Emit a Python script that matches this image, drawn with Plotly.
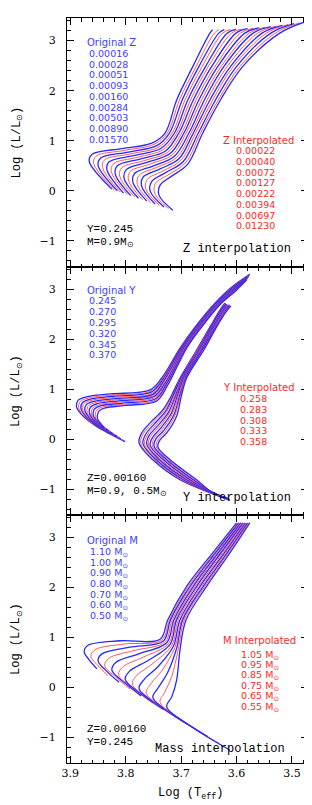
import plotly.graph_objects as go

# ---------------- data ----------------
z_orig = ["0.00016", "0.00028", "0.00051", "0.00093", "0.00160", "0.00284", "0.00503", "0.00890", "0.01570"]
z_interp = ["0.00022", "0.00040", "0.00072", "0.00127", "0.00222", "0.00394", "0.00697", "0.01230"]
y_orig = ["0.245", "0.270", "0.295", "0.320", "0.345", "0.370"]
y_interp = ["0.258", "0.283", "0.308", "0.333", "0.358"]
m_orig = ["1.10", "1.00", "0.90", "0.80", "0.70", "0.60", "0.50"]
m_interp = ["1.05", "0.95", "0.85", "0.75", "0.65", "0.55"]

# Panel 1: Z interpolation tracks (Z increasing, blue/red alternating)
z_tracks_logt = [
    [3.825, 3.866, 3.860, 3.807, 3.753, 3.729, 3.708, 3.679, 3.648, 3.643],
    [3.821, 3.858, 3.853, 3.801, 3.749, 3.725, 3.703, 3.673, 3.640, 3.632],
    [3.815, 3.850, 3.845, 3.795, 3.744, 3.721, 3.698, 3.668, 3.632, 3.622],
    [3.810, 3.842, 3.838, 3.790, 3.740, 3.716, 3.693, 3.662, 3.625, 3.611],
    [3.804, 3.834, 3.830, 3.784, 3.736, 3.712, 3.688, 3.656, 3.617, 3.601],
    [3.797, 3.826, 3.822, 3.778, 3.732, 3.708, 3.683, 3.651, 3.609, 3.591],
    [3.791, 3.819, 3.815, 3.773, 3.728, 3.704, 3.678, 3.645, 3.601, 3.580],
    [3.784, 3.811, 3.807, 3.767, 3.724, 3.699, 3.673, 3.639, 3.593, 3.570],
    [3.777, 3.803, 3.799, 3.762, 3.720, 3.695, 3.668, 3.634, 3.585, 3.559],
    [3.770, 3.795, 3.792, 3.756, 3.716, 3.691, 3.663, 3.628, 3.577, 3.549],
    [3.762, 3.787, 3.784, 3.750, 3.712, 3.686, 3.658, 3.623, 3.570, 3.538],
    [3.755, 3.779, 3.776, 3.745, 3.708, 3.682, 3.653, 3.617, 3.562, 3.528],
    [3.747, 3.771, 3.769, 3.739, 3.704, 3.678, 3.648, 3.611, 3.554, 3.517],
    [3.739, 3.764, 3.761, 3.733, 3.700, 3.674, 3.643, 3.606, 3.546, 3.507],
    [3.731, 3.756, 3.753, 3.728, 3.696, 3.669, 3.638, 3.600, 3.538, 3.496],
    [3.723, 3.748, 3.746, 3.722, 3.692, 3.665, 3.633, 3.594, 3.530, 3.486],
    [3.715, 3.740, 3.738, 3.717, 3.688, 3.661, 3.629, 3.589, 3.522, 3.476],
]
z_tracks_logl = [
    [0.034, 0.594, 0.734, 0.844, 0.954, 1.154, 1.814, 2.480, 3.148, 3.214],
    [0.019, 0.552, 0.695, 0.810, 0.928, 1.154, 1.814, 2.480, 3.148, 3.215],
    [-0.001, 0.509, 0.656, 0.775, 0.902, 1.154, 1.814, 2.480, 3.148, 3.217],
    [-0.022, 0.467, 0.618, 0.741, 0.875, 1.154, 1.814, 2.480, 3.148, 3.220],
    [-0.046, 0.424, 0.579, 0.707, 0.849, 1.154, 1.814, 2.480, 3.148, 3.224],
    [-0.070, 0.382, 0.540, 0.672, 0.823, 1.154, 1.814, 2.480, 3.148, 3.230],
    [-0.095, 0.339, 0.501, 0.638, 0.797, 1.154, 1.814, 2.480, 3.148, 3.237],
    [-0.122, 0.297, 0.463, 0.603, 0.770, 1.154, 1.814, 2.480, 3.148, 3.245],
    [-0.149, 0.254, 0.424, 0.569, 0.744, 1.154, 1.814, 2.480, 3.148, 3.254],
    [-0.177, 0.212, 0.385, 0.535, 0.718, 1.154, 1.814, 2.480, 3.148, 3.265],
    [-0.205, 0.169, 0.346, 0.500, 0.692, 1.154, 1.814, 2.480, 3.148, 3.277],
    [-0.234, 0.127, 0.308, 0.466, 0.665, 1.154, 1.814, 2.480, 3.148, 3.290],
    [-0.263, 0.084, 0.269, 0.432, 0.639, 1.154, 1.814, 2.480, 3.148, 3.304],
    [-0.293, 0.042, 0.230, 0.397, 0.613, 1.154, 1.814, 2.480, 3.148, 3.320],
    [-0.324, -0.001, 0.191, 0.363, 0.587, 1.154, 1.814, 2.480, 3.148, 3.337],
    [-0.355, -0.044, 0.153, 0.328, 0.560, 1.154, 1.814, 2.480, 3.148, 3.355],
    [-0.386, -0.086, 0.114, 0.294, 0.534, 1.154, 1.814, 2.480, 3.148, 3.374],
]

# Panel 2: Y interpolation, M = 0.9 tracks (outer to inner)
y09_tracks_logt = [
    [3.801, 3.852, 3.876, 3.889, 3.886, 3.871, 3.828, 3.756, 3.735, 3.702, 3.675, 3.639, 3.609, 3.576],
    [3.805, 3.851, 3.874, 3.885, 3.882, 3.868, 3.825, 3.755, 3.734, 3.701, 3.674, 3.638, 3.608, 3.577],
    [3.809, 3.851, 3.871, 3.881, 3.878, 3.864, 3.823, 3.754, 3.733, 3.700, 3.673, 3.637, 3.607, 3.577],
    [3.812, 3.850, 3.869, 3.878, 3.875, 3.861, 3.820, 3.752, 3.732, 3.698, 3.671, 3.635, 3.606, 3.578],
    [3.816, 3.850, 3.866, 3.874, 3.871, 3.857, 3.817, 3.751, 3.731, 3.697, 3.670, 3.634, 3.605, 3.578],
    [3.820, 3.849, 3.864, 3.870, 3.867, 3.854, 3.815, 3.750, 3.730, 3.696, 3.669, 3.633, 3.605, 3.579],
    [3.824, 3.848, 3.861, 3.866, 3.863, 3.851, 3.812, 3.749, 3.728, 3.695, 3.668, 3.632, 3.604, 3.580],
    [3.828, 3.848, 3.859, 3.862, 3.859, 3.847, 3.809, 3.748, 3.727, 3.694, 3.667, 3.631, 3.603, 3.580],
    [3.831, 3.847, 3.856, 3.859, 3.856, 3.844, 3.806, 3.746, 3.726, 3.692, 3.665, 3.629, 3.602, 3.581],
    [3.835, 3.847, 3.854, 3.855, 3.852, 3.840, 3.804, 3.745, 3.725, 3.691, 3.664, 3.628, 3.601, 3.581],
    [3.839, 3.846, 3.851, 3.851, 3.848, 3.837, 3.801, 3.744, 3.724, 3.690, 3.663, 3.627, 3.600, 3.582],
]
y09_tracks_logl = [
    [-0.048, 0.252, 0.452, 0.652, 0.776, 0.846, 0.906, 0.986, 1.226, 1.826, 2.246, 2.726, 3.046, 3.306],
    [-0.021, 0.259, 0.447, 0.635, 0.755, 0.824, 0.883, 0.964, 1.212, 1.826, 2.246, 2.726, 3.040, 3.294],
    [0.007, 0.267, 0.443, 0.619, 0.734, 0.802, 0.860, 0.942, 1.198, 1.826, 2.246, 2.726, 3.034, 3.282],
    [0.034, 0.274, 0.438, 0.602, 0.713, 0.780, 0.837, 0.920, 1.184, 1.826, 2.246, 2.726, 3.028, 3.270],
    [0.062, 0.282, 0.434, 0.586, 0.692, 0.758, 0.814, 0.898, 1.170, 1.826, 2.246, 2.726, 3.022, 3.258],
    [0.089, 0.289, 0.429, 0.569, 0.671, 0.736, 0.791, 0.876, 1.156, 1.826, 2.246, 2.726, 3.016, 3.246],
    [0.116, 0.296, 0.424, 0.552, 0.650, 0.714, 0.768, 0.854, 1.142, 1.826, 2.246, 2.726, 3.010, 3.234],
    [0.144, 0.304, 0.420, 0.536, 0.629, 0.692, 0.745, 0.832, 1.128, 1.826, 2.246, 2.726, 3.004, 3.222],
    [0.171, 0.311, 0.415, 0.519, 0.608, 0.670, 0.722, 0.810, 1.114, 1.826, 2.246, 2.726, 2.998, 3.210],
    [0.199, 0.319, 0.411, 0.503, 0.587, 0.648, 0.699, 0.788, 1.100, 1.826, 2.246, 2.726, 2.992, 3.198],
    [0.226, 0.326, 0.406, 0.486, 0.566, 0.626, 0.676, 0.766, 1.086, 1.826, 2.246, 2.726, 2.986, 3.186],
]

# Panel 2: Y interpolation, M = 0.5 tracks
y05_tracks_logt = [
    [3.612, 3.648, 3.702, 3.751, 3.776, 3.771, 3.756, 3.733, 3.717, 3.702, 3.672, 3.646, 3.630, 3.621],
    [3.612, 3.648, 3.699, 3.748, 3.773, 3.768, 3.753, 3.731, 3.715, 3.701, 3.671, 3.645, 3.629, 3.620],
    [3.612, 3.648, 3.696, 3.745, 3.769, 3.764, 3.750, 3.728, 3.714, 3.700, 3.669, 3.644, 3.628, 3.619],
    [3.613, 3.648, 3.693, 3.742, 3.766, 3.761, 3.747, 3.726, 3.712, 3.698, 3.668, 3.642, 3.626, 3.618],
    [3.613, 3.648, 3.690, 3.739, 3.762, 3.758, 3.744, 3.723, 3.710, 3.697, 3.667, 3.641, 3.625, 3.617],
    [3.613, 3.648, 3.687, 3.736, 3.759, 3.755, 3.741, 3.721, 3.709, 3.696, 3.666, 3.640, 3.624, 3.616],
    [3.613, 3.648, 3.684, 3.732, 3.756, 3.751, 3.738, 3.718, 3.707, 3.695, 3.664, 3.639, 3.623, 3.614],
    [3.613, 3.648, 3.681, 3.729, 3.752, 3.748, 3.735, 3.716, 3.705, 3.694, 3.663, 3.638, 3.622, 3.613],
    [3.614, 3.648, 3.678, 3.726, 3.749, 3.745, 3.732, 3.713, 3.703, 3.692, 3.662, 3.636, 3.620, 3.612],
    [3.614, 3.648, 3.675, 3.723, 3.745, 3.741, 3.729, 3.711, 3.702, 3.691, 3.660, 3.635, 3.619, 3.611],
    [3.614, 3.648, 3.672, 3.720, 3.742, 3.738, 3.726, 3.708, 3.700, 3.690, 3.659, 3.634, 3.618, 3.610],
]
y05_tracks_logl = [
    [-1.224, -1.074, -0.814, -0.414, -0.074, 0.126, 0.326, 0.586, 0.886, 1.226, 1.786, 2.286, 2.586, 2.726],
    [-1.221, -1.070, -0.814, -0.414, -0.082, 0.112, 0.306, 0.574, 0.882, 1.226, 1.786, 2.286, 2.584, 2.720],
    [-1.218, -1.066, -0.814, -0.414, -0.090, 0.098, 0.286, 0.562, 0.878, 1.226, 1.786, 2.286, 2.582, 2.714],
    [-1.215, -1.062, -0.814, -0.414, -0.098, 0.084, 0.266, 0.550, 0.874, 1.226, 1.786, 2.286, 2.580, 2.708],
    [-1.212, -1.058, -0.814, -0.414, -0.106, 0.070, 0.246, 0.538, 0.870, 1.226, 1.786, 2.286, 2.578, 2.702],
    [-1.209, -1.054, -0.814, -0.414, -0.114, 0.056, 0.226, 0.526, 0.866, 1.226, 1.786, 2.286, 2.576, 2.696],
    [-1.206, -1.050, -0.814, -0.414, -0.122, 0.042, 0.206, 0.514, 0.862, 1.226, 1.786, 2.286, 2.574, 2.690],
    [-1.203, -1.046, -0.814, -0.414, -0.130, 0.028, 0.186, 0.502, 0.858, 1.226, 1.786, 2.286, 2.572, 2.684],
    [-1.200, -1.042, -0.814, -0.414, -0.138, 0.014, 0.166, 0.490, 0.854, 1.226, 1.786, 2.286, 2.570, 2.678],
    [-1.197, -1.038, -0.814, -0.414, -0.146, 0.000, 0.146, 0.478, 0.850, 1.226, 1.786, 2.286, 2.568, 2.672],
    [-1.194, -1.034, -0.814, -0.414, -0.154, -0.014, 0.126, 0.466, 0.846, 1.226, 1.786, 2.286, 2.566, 2.666],
]

# Panel 3: mass interpolation tracks (1.10 ... 0.50 Msun)
m_tracks_logt = [
    [3.852, 3.866, 3.875, 3.868, 3.810, 3.738, 3.724, 3.690, 3.643, 3.600],
    [3.832, 3.850, 3.863, 3.855, 3.802, 3.735, 3.721, 3.687, 3.640, 3.598],
    [3.812, 3.834, 3.850, 3.843, 3.793, 3.732, 3.719, 3.684, 3.638, 3.596],
    [3.792, 3.818, 3.838, 3.830, 3.785, 3.729, 3.716, 3.681, 3.635, 3.594],
    [3.772, 3.802, 3.825, 3.818, 3.776, 3.726, 3.713, 3.678, 3.633, 3.592],
    [3.752, 3.786, 3.813, 3.805, 3.768, 3.723, 3.710, 3.675, 3.630, 3.590],
    [3.732, 3.771, 3.801, 3.793, 3.759, 3.720, 3.708, 3.672, 3.628, 3.588],
    [3.712, 3.755, 3.788, 3.780, 3.751, 3.717, 3.705, 3.669, 3.625, 3.586],
    [3.692, 3.739, 3.776, 3.767, 3.742, 3.714, 3.702, 3.666, 3.622, 3.584],
    [3.672, 3.723, 3.763, 3.755, 3.734, 3.711, 3.699, 3.663, 3.620, 3.582],
    [3.652, 3.707, 3.751, 3.742, 3.725, 3.708, 3.697, 3.660, 3.617, 3.580],
    [3.632, 3.691, 3.738, 3.730, 3.717, 3.705, 3.694, 3.657, 3.615, 3.578],
    [3.612, 3.675, 3.726, 3.717, 3.708, 3.702, 3.691, 3.654, 3.612, 3.576],
]
m_tracks_logl = [
    [0.367, 0.548, 0.709, 0.839, 0.930, 0.960, 1.351, 2.020, 2.691, 3.293],
    [0.231, 0.433, 0.617, 0.753, 0.865, 0.942, 1.351, 2.020, 2.691, 3.293],
    [0.096, 0.317, 0.525, 0.667, 0.800, 0.925, 1.351, 2.020, 2.691, 3.293],
    [-0.040, 0.202, 0.433, 0.581, 0.734, 0.907, 1.351, 2.020, 2.691, 3.293],
    [-0.175, 0.086, 0.341, 0.494, 0.669, 0.890, 1.351, 2.020, 2.691, 3.293],
    [-0.311, -0.029, 0.249, 0.408, 0.604, 0.872, 1.351, 2.020, 2.691, 3.293],
    [-0.446, -0.145, 0.157, 0.322, 0.539, 0.855, 1.351, 2.020, 2.691, 3.293],
    [-0.582, -0.260, 0.064, 0.236, 0.473, 0.837, 1.351, 2.020, 2.691, 3.293],
    [-0.717, -0.375, -0.028, 0.150, 0.408, 0.819, 1.351, 2.020, 2.691, 3.293],
    [-0.853, -0.491, -0.120, 0.064, 0.343, 0.802, 1.351, 2.020, 2.691, 3.293],
    [-0.988, -0.606, -0.212, -0.023, 0.278, 0.784, 1.351, 2.020, 2.691, 3.293],
    [-1.124, -0.722, -0.304, -0.109, 0.212, 0.767, 1.351, 2.020, 2.691, 3.293],
    [-1.259, -0.837, -0.396, -0.195, 0.147, 0.749, 1.351, 2.020, 2.691, 3.293],
]

# ---------------- styling ----------------
BLUE = "rgb(40,40,255)"
RED = "rgb(255,70,70)"
TXT_BLUE = "rgb(60,60,255)"
TXT_RED = "rgb(255,40,40)"
# page body has an 8px margin: figure is drawn from screen (8, 8)
OFF = 8
SCR_W, SCR_H = 312, 805
W, H = SCR_W - OFF, SCR_H - OFF
PL, PR, PT, PB = 67, 308, 18, 763          # plot-area edges in screen pixels
ML, MR, MT, MB = PL - OFF, SCR_W - PR, PT - OFF, SCR_H - PB


def px2x(px):
    return (px - PL) / (PR - PL)


def py2y(py):
    return (PB - py) / (PB - PT)


fig = go.Figure()


def add_tracks(xs, ys, axis):
    for k, (tx, ty) in enumerate(zip(xs, ys)):
        blue = (k % 2 == 0)
        fig.add_trace(go.Scatter(
            x=tx, y=ty, mode="lines", xaxis="x" + axis, yaxis="y" + axis,
            line=dict(color=BLUE if blue else RED, width=1.3 if blue else 0.9,
                      shape="spline", smoothing=1.0),
            hoverinfo="skip", showlegend=False))


add_tracks(z_tracks_logt, z_tracks_logl, "")
add_tracks(y09_tracks_logt, y09_tracks_logl, "2")
add_tracks(y05_tracks_logt, y05_tracks_logl, "2")
add_tracks(m_tracks_logt, m_tracks_logl, "3")

tick_font = dict(family="DejaVu Serif", size=11, color="black")
common = dict(showline=True, linecolor="black", linewidth=1, mirror="allticks",
              ticks="inside", ticklen=7, tickwidth=1, tickcolor="black",
              showgrid=False, zeroline=False, tickfont=tick_font)
xcommon = dict(common, range=[3.906, 3.471], tick0=3.5, dtick=0.1,
               minor=dict(ticks="inside", ticklen=3.5, tickwidth=1, tickcolor="black",
                          dtick=0.02, tick0=3.5, showgrid=False))
ycommon = dict(common, range=[-1.52, 3.45], tick0=0, dtick=1, ticklabelstandoff=8,
               minor=dict(ticks="inside", ticklen=3.5, tickwidth=1, tickcolor="black",
                          dtick=0.2, tick0=0, showgrid=False))

d1 = [py2y(267), 1.0]
d2 = [py2y(515), py2y(267)]
d3 = [0.0, py2y(515)]

fig.update_layout(
    width=W, height=H, margin=dict(l=ML, r=MR, t=MT, b=MB),
    paper_bgcolor="white", plot_bgcolor="white", showlegend=False,
    xaxis=dict(xcommon, anchor="y", showticklabels=False, matches="x3"),
    xaxis2=dict(xcommon, anchor="y2", showticklabels=False, matches="x3"),
    xaxis3=dict(xcommon, anchor="y3", showticklabels=True, ticklabelstandoff=0),
    yaxis=dict(ycommon, domain=d1, anchor="x"),
    yaxis2=dict(ycommon, domain=d2, anchor="x2"),
    yaxis3=dict(ycommon, domain=d3, anchor="x3"),
)

ann = []
HEAD = dict(family="DejaVu Sans", size=10)
VAL = dict(family="DejaVu Sans", size=9.5)
BLK = dict(family="Liberation Mono", size=11, color="black")
TITLE = dict(family="Liberation Mono", size=12, color="black")


def text(t, px, py, font, anchor="left", angle=0):
    ann.append(dict(text=t, x=px2x(px), y=py2y(py), xref="paper", yref="paper",
                    xanchor=anchor, yanchor="middle", showarrow=False, font=font,
                    textangle=angle, borderpad=0))


# Panel 1
text("Original Z", 86, 42.7, dict(HEAD, color=TXT_BLUE))
for k, v in enumerate(z_orig):
    text(v, 88.3, 53.3 + k * 10.75, dict(VAL, color=TXT_BLUE))
text("Z Interpolated", 221.7, 140, dict(HEAD, color=TXT_RED))
for k, v in enumerate(z_interp):
    text(v, 235, 150.7 + k * 10.75, dict(VAL, color=TXT_RED))
text("Y=0.245", 86, 229, BLK)
text("M=0.9M<sub>⊙</sub>", 86, 242, BLK)
text("Z interpolation", 181.7, 249.3, TITLE)

# Panel 2
text("Original Y", 86, 290, dict(HEAD, color=TXT_BLUE))
for k, v in enumerate(y_orig):
    text(v, 88.3, 300.7 + k * 10.85, dict(VAL, color=TXT_BLUE))
text("Y Interpolated", 221.7, 387.7, dict(HEAD, color=TXT_RED))
for k, v in enumerate(y_interp):
    text(v, 239.3, 398.3 + k * 10.85, dict(VAL, color=TXT_RED))
text("Z=0.00160", 86, 478, BLK)
text("M=0.9, 0.5M<sub>⊙</sub>", 86, 491, BLK)
text("Y interpolation", 181.7, 498, TITLE)

# Panel 3
text("Original M", 86, 540.7, dict(HEAD, color=TXT_BLUE))
for k, v in enumerate(m_orig):
    text(v + " M<sub>⊙</sub>", 89.3, 552.3 + k * 10.7, dict(VAL, color=TXT_BLUE))
text("M Interpolated", 221.7, 640.7, dict(HEAD, color=TXT_RED))
for k, v in enumerate(m_interp):
    text(v + " M<sub>⊙</sub>", 240, 655 + k * 10.45, dict(VAL, color=TXT_RED))
text("Z=0.00160", 86, 729, BLK)
text("Y=0.245", 86, 742, BLK)
text("Mass interpolation", 154, 748.5, TITLE)

# axis titles
for cy in (142.5, 391, 639):
    text("Log (L/L<sub>⊙</sub>)", 17, cy, TITLE, anchor="center", angle=-90)
text("Log (T<sub>eff</sub>)", 191, 794, TITLE, anchor="center")

fig.update_layout(annotations=ann)
fig.write_html("out.html")
